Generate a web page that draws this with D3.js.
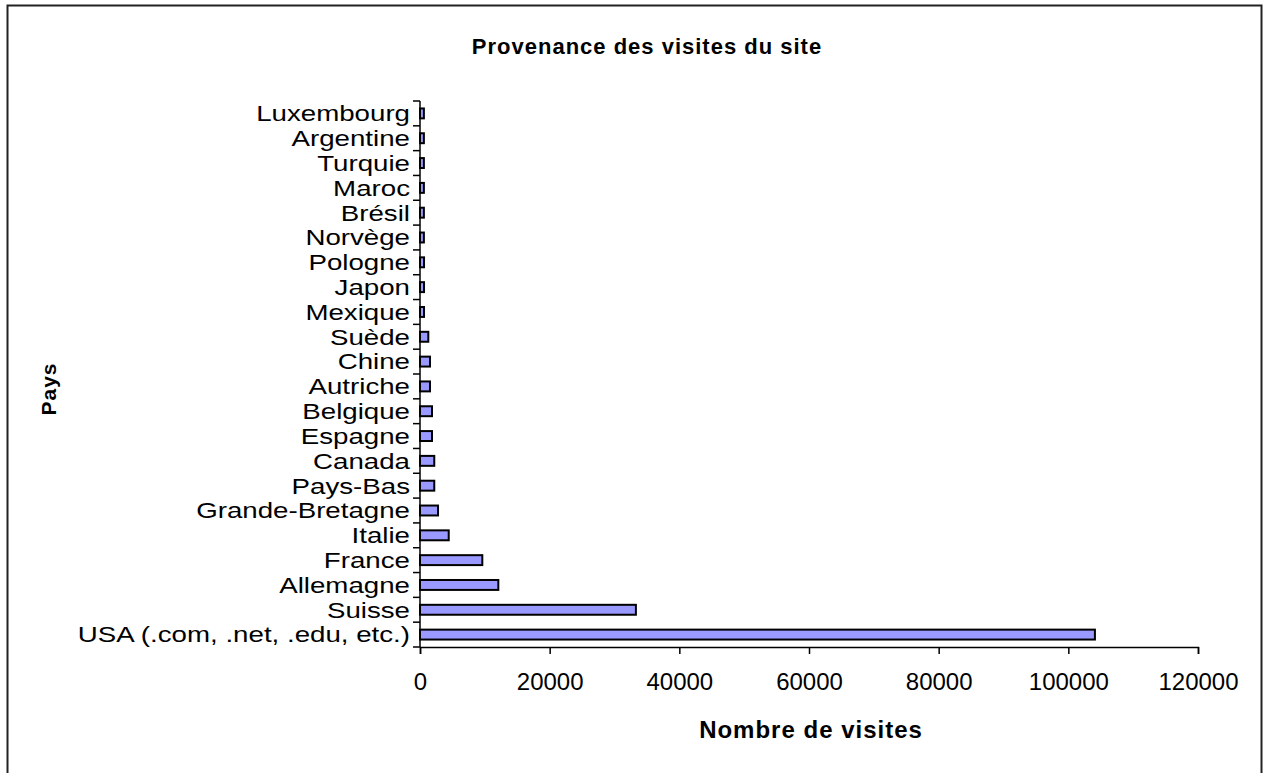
<!DOCTYPE html>
<html lang="fr">
  <head>
    <meta charset="utf-8">
    <title>Provenance des visites du site</title>
    <script src="https://d3js.org/d3.v7.min.js"></script>
    <style>
      body { margin: 0; background: #fff; }
      text { font-family: "Liberation Sans", Arial, sans-serif; fill: #000; }
      .bar { fill: #9999ff; stroke: #000; stroke-width: 2; }
      .axis path, .axis line { stroke: #000; stroke-width: 1.5; }
      .axis text { font-size: 24px; }
      .axis .lbl { font-size: 22.5px; }
    </style>
  </head>
  <body>
    <svg width="1266" height="773" id="chart"></svg>
    <script>
    // categories listed bottom to top as in the picture
    var countries = ["USA (.com, .net, .edu, etc.)", "Suisse", "Allemagne", "France", "Italie",
      "Grande-Bretagne", "Pays-Bas", "Canada", "Espagne", "Belgique", "Autriche", "Chine",
      "Suède", "Mexique", "Japon", "Pologne", "Norvège", "Brésil", "Maroc", "Turquie",
      "Argentine", "Luxembourg"];
    var visits = [104100, 33300, 12080, 9610, 4430, 2780, 2200, 2200, 1850, 1850, 1540, 1540,
      1280, 620, 620, 620, 600, 600, 600, 600, 600, 600];
    var xTicks = [0, 20000, 40000, 60000, 80000, 100000, 120000];

    var svg = d3.select("#chart"),
        margin = {top: 101, left: 420, right: 68, bottom: 126},
        width = +svg.attr("width") - margin.left - margin.right,
        height = +svg.attr("height") - margin.top - margin.bottom;

    // outer frame
    svg.append("rect")
        .attr("x", 7.5).attr("y", 5.5)
        .attr("width", 1254).attr("height", 800)
        .attr("fill", "none").attr("stroke", "#222").attr("stroke-width", 2);

    var x = d3.scaleLinear().domain([0, 120000]).range([0, width]);
    var y = d3.scaleBand().domain(countries).range([height, 0]).paddingInner(0.6).paddingOuter(0.3);
    var yEdges = d3.scaleLinear().domain([0, countries.length]).range([height, 0]);

    var g = svg.append("g")
        .attr("transform", "translate(" + margin.left + "," + margin.top + ")");

    g.selectAll(".bar")
      .data(countries)
      .enter().append("rect")
        .attr("class", "bar")
        .attr("x", 0)
        .attr("y", function(d) { return y(d); })
        .attr("width", function(d, i) { return x(visits[i]); })
        .attr("height", y.bandwidth());

    // x axis
    g.append("g")
        .attr("class", "axis")
        .attr("transform", "translate(0," + height + ")")
        .call(d3.axisBottom(x).tickValues(xTicks).tickFormat(d3.format("d")).tickSizeInner(7).tickSizeOuter(7).tickPadding(19));

    // y axis: tick marks on category boundaries, labels centred in bands
    var yAxis = g.append("g").attr("class", "axis");
    yAxis.append("line")
        .attr("x1", 0).attr("x2", 0)
        .attr("y1", 0).attr("y2", height);
    yAxis.selectAll(".edge")
      .data(d3.range(countries.length + 1))
      .enter().append("line")
        .attr("x1", -7).attr("x2", 0)
        .attr("y1", function(d) { return yEdges(d); })
        .attr("y2", function(d) { return yEdges(d); });
    // the original font is wide, so stretch the labels sideways
    yAxis.selectAll(".lbl")
      .data(countries)
      .enter().append("text")
        .attr("class", "lbl")
        .attr("transform", function(d) {
          return "translate(-10," + (y(d) + y.bandwidth() / 2) + ") scale(1.23,1)";
        })
        .attr("dy", "0.35em")
        .attr("text-anchor", "end")
        .text(function(d) { return d; });

    svg.append("text")
        .attr("x", 647).attr("y", 54)
        .attr("text-anchor", "middle")
        .style("font-size", "22px").style("font-weight", "bold").style("letter-spacing", "1px")
        .text("Provenance des visites du site");

    svg.append("text")
        .attr("x", 811).attr("y", 738)
        .attr("text-anchor", "middle")
        .style("font-size", "24px").style("font-weight", "bold").style("letter-spacing", "1px")
        .text("Nombre de visites");

    svg.append("text")
        .attr("transform", "translate(56,389) rotate(-90)")
        .attr("text-anchor", "middle")
        .style("font-size", "21px").style("font-weight", "bold").style("letter-spacing", "1px")
        .text("Pays");
    </script>
  </body>
</html>
